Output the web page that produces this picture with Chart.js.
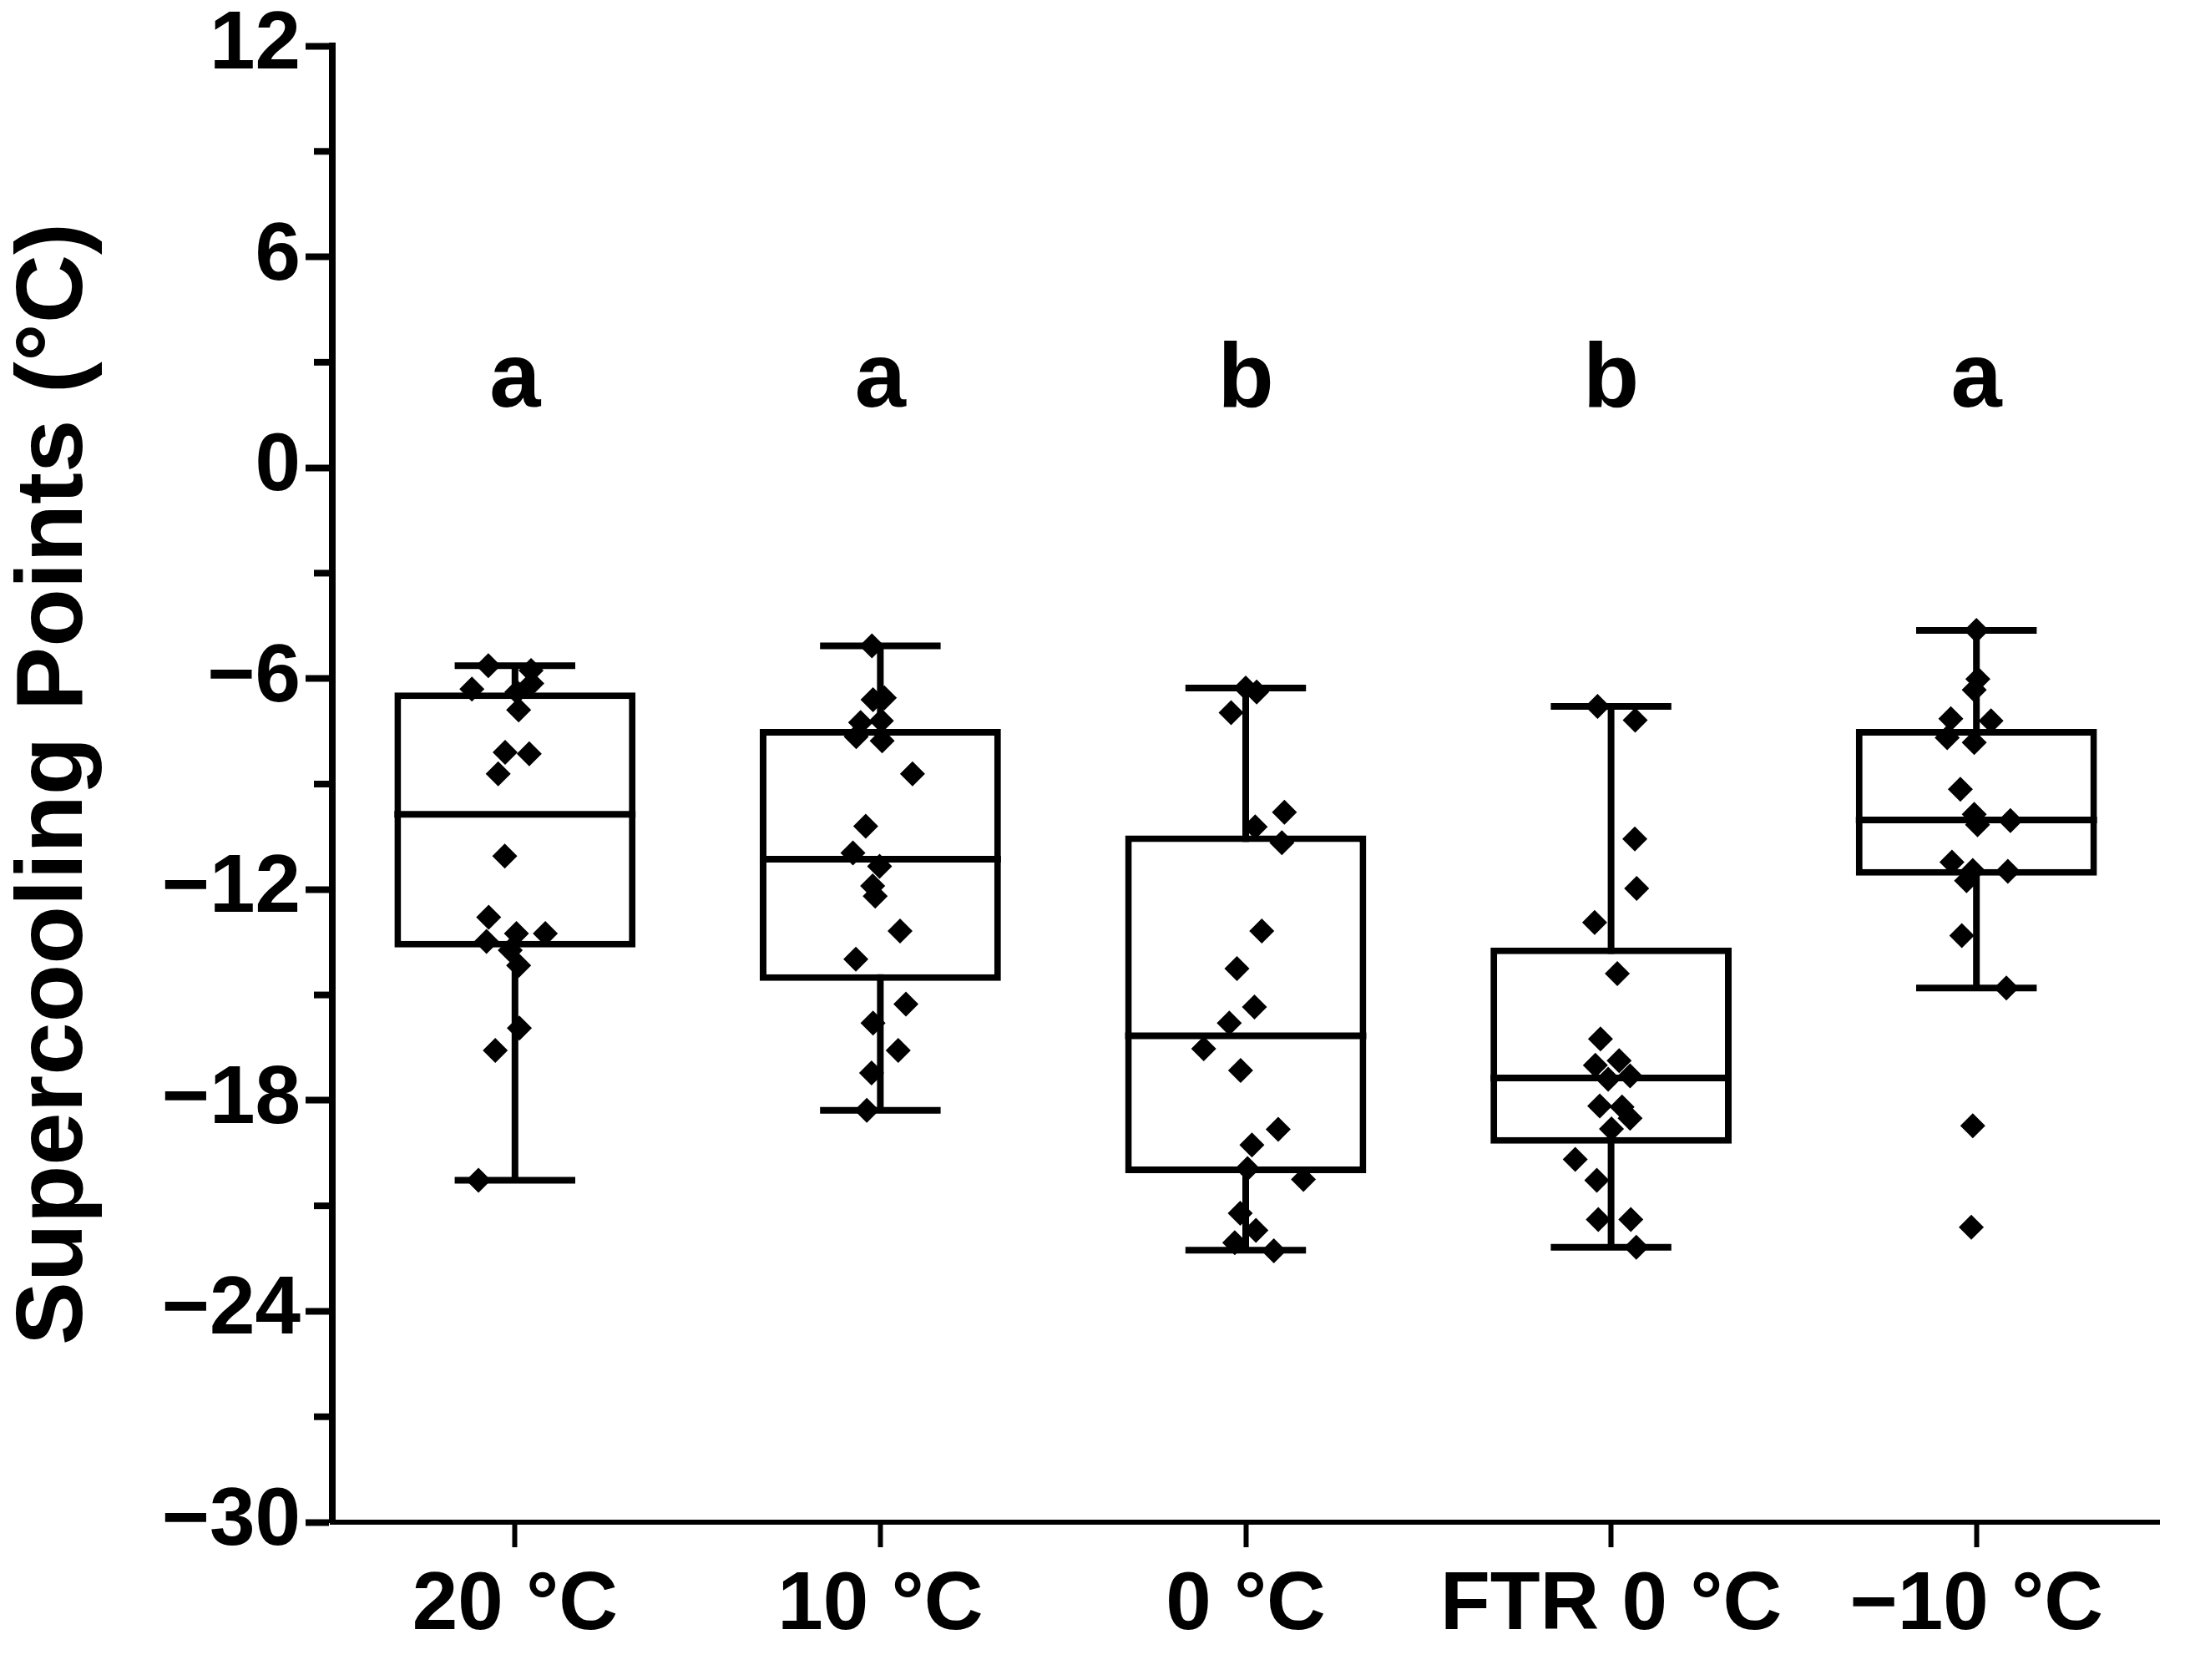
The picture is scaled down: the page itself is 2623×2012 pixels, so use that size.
<!DOCTYPE html>
<html>
<head>
<meta charset="utf-8">
<title>Supercooling points</title>
<script src="https://cdn.jsdelivr.net/npm/chart.js@4.4.0/dist/chart.umd.min.js"></script>
<style>
  html, body { margin: 0; padding: 0; background: #fff; }
  canvas { display: block; }
</style>
</head>
<body>
<canvas id="chart" width="2623" height="2012"></canvas>
<script>
// treatments and the significance letters above each box
const categories = ['20 \u00b0C', '10 \u00b0C', '0 \u00b0C', 'FTR 0 \u00b0C', '\u221210 \u00b0C'];
const letters = ['a', 'a', 'b', 'b', 'a'];
const letterLevel = 1.73;

// box plot summary (°C)
const whiskerLow = [-20.27, -18.28, -22.26, -22.18, -14.8];
const q1 = [-13.65, -14.6, -20.07, -19.23, -11.61];
const median = [-9.86, -11.14, -16.16, -17.36, -10.02];
const q3 = [-6.39, -7.43, -10.46, -13.65, -7.43];
const whiskerHigh = [-5.63, -5.07, -6.27, -6.79, -4.63];

// individual supercooling points and their horizontal jitter (category units)
const spc20 = [-5.63, -5.77, -6.14, -6.30, -6.38, -6.89, -8.10, -8.14, -8.71, -11.05, -12.79, -13.48, -13.25, -13.25, -13.73, -14.16, -15.94, -16.58, -20.27];
const jit20 = [-0.073, 0.044, 0.046, -0.118, 0.005, 0.010, -0.027, 0.039, -0.046, -0.028, -0.072, -0.078, 0.004, 0.083, -0.013, 0.010, 0.012, -0.054, -0.10];
const spc10 = [-5.07, -6.60, -6.55, -7.25, -7.20, -7.65, -7.77, -8.71, -10.20, -10.96, -11.34, -11.90, -12.19, -13.18, -13.98, -15.26, -15.80, -16.58, -17.22, -18.28];
const jit10 = [-0.023, -0.020, 0.011, -0.054, 0.003, -0.066, 0.005, 0.088, -0.040, -0.075, -0.002, -0.021, -0.014, 0.054, -0.067, 0.070, -0.020, 0.049, -0.024, -0.037];
const spc0 = [-6.27, -6.38, -6.97, -9.80, -10.22, -10.67, -13.18, -14.25, -15.34, -15.80, -16.53, -17.15, -18.82, -19.27, -19.94, -20.25, -21.21, -21.70, -22.05, -22.28];
const jit0 = [0.0, 0.03, -0.04, 0.106, 0.026, 0.099, 0.044, -0.024, 0.024, -0.045, -0.115, -0.014, 0.089, 0.017, 0.005, 0.158, -0.015, 0.028, -0.030, 0.077];
const spcFtr = [-6.79, -7.18, -10.56, -11.97, -12.94, -14.39, -16.25, -17.0, -16.87, -17.40, -17.30, -18.16, -18.19, -18.51, -18.81, -19.68, -20.27, -21.39, -21.39, -22.18];
const jitFtr = [-0.037, 0.066, 0.065, 0.070, -0.045, 0.017, -0.029, -0.043, 0.022, -0.008, 0.052, -0.031, 0.030, 0.052, 0.001, -0.098, -0.039, -0.035, 0.054, 0.069];
const spcM10 = [-4.63, -6.01, -6.32, -7.14, -7.20, -7.68, -7.82, -9.15, -9.86, -10.16, -10.04, -11.22, -11.46, -11.75, -11.48, -13.31, -14.80, -18.72, -21.61];
const jitM10 = [0.0, 0.004, -0.006, -0.070, 0.040, -0.080, -0.006, -0.044, -0.006, 0.003, 0.093, -0.067, -0.010, -0.027, 0.086, -0.040, 0.082, -0.010, -0.014];

const pointGroups = [[spc20, jit20], [spc10, jit10], [spc0, jit0], [spcFtr, jitFtr], [spcM10, jitM10]];

const FONT = '"Liberation Sans", Arial, sans-serif';
const LINE = 8;

function minusLabel(v) {
  return v < 0 ? '\u2212' + Math.abs(v) : String(v);
}

// whiskers, medians, minor ticks and letters
const boxParts = {
  id: 'boxParts',
  beforeDatasetsDraw(chart) {
    const ctx = chart.ctx;
    const y = chart.scales.y;
    const bars = chart.getDatasetMeta(0).data;
    ctx.save();
    ctx.strokeStyle = '#000';
    ctx.lineWidth = LINE;
    bars.forEach((bar, i) => {
      const half = bar.width * 0.25;
      const lo = y.getPixelForValue(whiskerLow[i]);
      const hi = y.getPixelForValue(whiskerHigh[i]);
      ctx.beginPath();
      ctx.moveTo(bar.x, lo);
      ctx.lineTo(bar.x, hi);
      ctx.moveTo(bar.x - half, lo);
      ctx.lineTo(bar.x + half, lo);
      ctx.moveTo(bar.x - half, hi);
      ctx.lineTo(bar.x + half, hi);
      ctx.stroke();
    });
    ctx.restore();
  },
  afterDatasetDraw(chart, args) {
    if (args.index !== 0) return;
    const ctx = chart.ctx;
    const y = chart.scales.y;
    ctx.save();
    ctx.strokeStyle = '#000';
    ctx.lineWidth = LINE;
    args.meta.data.forEach((bar, i) => {
      const py = y.getPixelForValue(median[i]);
      ctx.beginPath();
      ctx.moveTo(bar.x - bar.width / 2, py);
      ctx.lineTo(bar.x + bar.width / 2, py);
      ctx.stroke();
    });
    ctx.restore();
  },
  afterDraw(chart) {
    const ctx = chart.ctx;
    const y = chart.scales.y;
    const x = chart.scales.x;
    ctx.save();
    // minor ticks every 3 degrees
    ctx.strokeStyle = '#000';
    ctx.lineWidth = 8;
    for (let v = y.min + 3; v < y.max; v += 6) {
      const py = y.getPixelForValue(v);
      ctx.beginPath();
      ctx.moveTo(y.right - 22, py);
      ctx.lineTo(y.right, py);
      ctx.stroke();
    }
    ctx.fillStyle = '#000';
    ctx.font = 'bold 110px ' + FONT;
    ctx.textAlign = 'center';
    ctx.textBaseline = 'alphabetic';
    letters.forEach((t, i) => {
      ctx.fillText(t, x.getPixelForValue(i), y.getPixelForValue(letterLevel));
    });
    ctx.restore();
  }
};

const datasets = [{
  type: 'bar',
  data: q1.map((v, i) => [v, q3[i]]),
  backgroundColor: '#fff',
  borderColor: '#000',
  borderWidth: LINE,
  borderSkipped: false,
  grouped: false,
  barPercentage: 0.66,
  categoryPercentage: 1,
  order: 2
}];
pointGroups.forEach(([vals, jit], g) => {
  datasets.push({
    type: 'scatter',
    xAxisID: 'xs',
    data: vals.map((v, k) => ({ x: g + jit[k], y: v })),
    pointStyle: 'rectRot',
    pointRadius: 15,
    pointBackgroundColor: '#000',
    pointBorderWidth: 0,
    order: 1
  });
});

new Chart(document.getElementById('chart'), {
  type: 'bar',
  data: { labels: categories, datasets: datasets },
  options: {
    responsive: false,
    animation: false,
    devicePixelRatio: 1,
    events: [],
    layout: { padding: { top: 43, right: 37, bottom: 0, left: 0 } },
    plugins: { legend: { display: false }, tooltip: { enabled: false } },
    scales: {
      x: {
        type: 'category',
        offset: true,
        grid: { display: true, drawOnChartArea: false, offset: false, tickLength: 30, tickWidth: 6, tickColor: '#000' },
        border: { display: true, color: '#000', width: 6 },
        ticks: { color: '#000', font: { family: FONT, size: 98, weight: 'bold', lineHeight: 1 }, padding: 22, maxRotation: 0, autoSkip: false },
        afterFit(scale) { scale.height = 189; }
      },
      xs: { type: 'linear', min: -0.5, max: 4.5, offset: false, display: false },
      y: {
        min: -30,
        max: 12,
        grid: { drawOnChartArea: false, tickLength: 32, tickWidth: 8, tickColor: '#000' },
        border: { display: true, color: '#000', width: 8 },
        ticks: { stepSize: 6, color: '#000', padding: 6, font: { family: FONT, size: 98, weight: 'bold', lineHeight: 1 }, callback: minusLabel },
        title: { display: true, text: 'Supercooling Points (\u00b0C)', color: '#000', font: { family: FONT, size: 114, weight: 'bold', lineHeight: 1 }, padding: { top: 10, bottom: 0 } },
        afterFit(scale) { scale.width = 398; }
      }
    }
  },
  plugins: [boxParts]
});
</script>
</body>
</html>
